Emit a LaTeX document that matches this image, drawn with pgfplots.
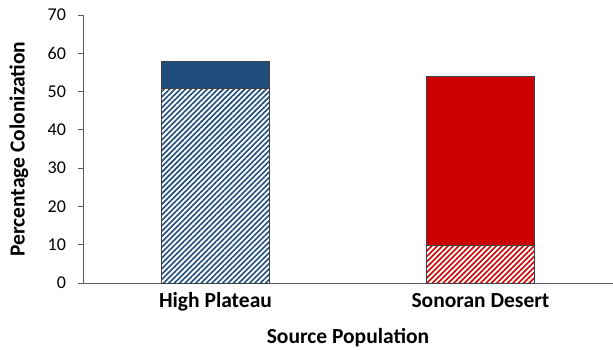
\documentclass[border=0pt]{standalone}
\usepackage{pgfplots}
\pgfplotsset{compat=1.18}
\usetikzlibrary{patterns.meta}
\usepackage{fontspec}
\setmainfont{Carlito}
\definecolor{hpblue}{RGB}{31,78,125}
\definecolor{sdred}{RGB}{204,0,0}
\definecolor{axgray}{RGB}{90,90,90}
\begin{document}
\begin{tikzpicture}
\begin{axis}[
  at={(0,0)}, anchor=south west,
  scale only axis, width=530pt, height=268pt,
  xmin=-0.5, xmax=1.5, ymin=0, ymax=70,
  ytick={0,10,...,70},
  xtick={0,1}, xticklabels={High Plateau, Sonoran Desert},
  axis x line=bottom, axis y line=left,
  axis line style={axgray, line width=0.9pt, -},
  x axis line style={-}, y axis line style={-},
  major x tick style={draw=none},
  major y tick style={axgray, line width=0.9pt},
  tick align=outside, major tick length=4.5pt,
  /pgf/number format/assume math mode=true,
  yticklabel style={font=\fontsize{18}{20}\selectfont, text=black, xshift=-9pt},
  xticklabel style={font=\fontsize{21.5}{24}\selectfont\bfseries, anchor=base, yshift=-20pt},
  ylabel={Percentage Colonization},
  xlabel={Source Population},
  ylabel style={font=\fontsize{21.5}{24}\selectfont\bfseries, at={(axis description cs:-0.121,0.5)}, anchor=center},
  xlabel style={font=\fontsize{21.5}{24}\selectfont\bfseries, at={(axis description cs:0.5,-0.205)}, anchor=center},
  ybar, bar width=108pt, bar shift=0pt,
  clip=false,
]
% full bar heights (solid segments show above hatched part)
\addplot[fill=hpblue, draw=black!75, line width=0.8pt] coordinates {(0,58.0)};
\addplot[fill=sdred, draw=black!75, line width=0.8pt] coordinates {(1,53.9)};
% hatched lower segments
\addplot[fill=white, draw=black!75, line width=0.8pt,
  postaction={pattern={Lines[angle=45,distance=3.8pt,line width=1.6pt]}, pattern color=hpblue}]
  coordinates {(0,50.8)};
\addplot[fill=white, draw=black!75, line width=0.8pt,
  postaction={pattern={Lines[angle=45,distance=3.8pt,line width=1.6pt]}, pattern color=sdred}]
  coordinates {(1,9.9)};
\end{axis}
\pgfresetboundingbox
\path (-83pt,-67pt) rectangle (530pt,283pt);
\end{tikzpicture}
\end{document}
